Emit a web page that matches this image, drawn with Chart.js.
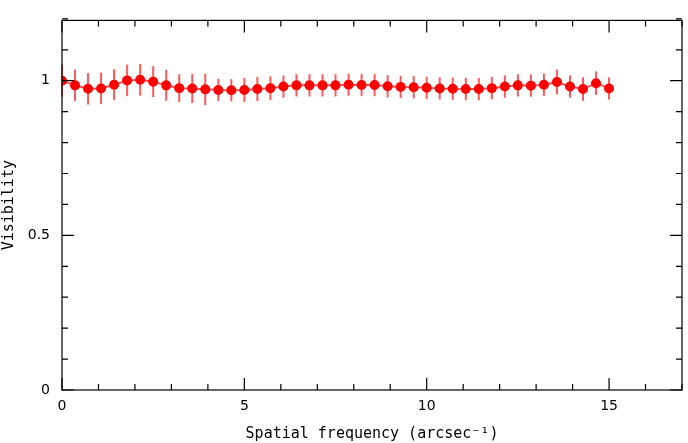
<!DOCTYPE html>
<html><head><meta charset="utf-8">
<script src="https://cdn.jsdelivr.net/npm/chart.js@4/dist/chart.umd.min.js"></script>
<style>body{margin:0;background:#fff}</style></head>
<body><canvas id="c" width="688" height="443"></canvas>
<script>
const nPoints = 43;
const freqStep = 15 / 42;
const visibility = [1.0, 0.985, 0.974, 0.975, 0.987, 1.001, 1.003, 0.997, 0.985, 0.976, 0.975, 0.972, 0.970, 0.969, 0.970, 0.973, 0.976, 0.981, 0.985, 0.985, 0.985, 0.985, 0.987,
  0.986, 0.986, 0.982, 0.980, 0.979, 0.977, 0.975, 0.974, 0.973, 0.973, 0.976, 0.981, 0.985, 0.984, 0.987, 0.996, 0.981, 0.973, 0.992, 0.975];
const errors = [0.052, 0.051, 0.051, 0.051, 0.05, 0.051, 0.051, 0.05, 0.05, 0.045, 0.047, 0.051, 0.036, 0.036, 0.039, 0.039, 0.038, 0.036, 0.036, 0.036, 0.036, 0.036, 0.036,
  0.036, 0.036, 0.036, 0.036, 0.036, 0.036, 0.036, 0.036, 0.036, 0.036, 0.036, 0.036, 0.036, 0.036, 0.036, 0.04, 0.036, 0.038, 0.038, 0.036];
const xTicks = [0, 5, 10, 15];
const yTicks = [0, 0.5, 1];

const pts = visibility.map((v, i) => ({x: i * freqStep, y: v}));

const frame = {
  id: 'frame',
  beforeDatasetsDraw(chart) {
    const c = chart.ctx, xs = chart.scales.x, ys = chart.scales.y;
    c.save();
    c.strokeStyle = 'rgba(255,0,0,0.65)';
    c.lineWidth = 2;
    pts.forEach((p, i) => {
      const px = xs.getPixelForValue(p.x);
      c.beginPath();
      c.moveTo(px, ys.getPixelForValue(p.y - errors[i]));
      c.lineTo(px, ys.getPixelForValue(p.y + errors[i]));
      c.stroke();
    });
    c.restore();
  },
  afterDraw(chart) {
    const c = chart.ctx, a = chart.chartArea, xs = chart.scales.x, ys = chart.scales.y;
    c.save();
    c.strokeStyle = '#000';
    c.lineWidth = 1.2;
    c.strokeRect(a.left, a.top, a.right - a.left, a.bottom - a.top);
    c.beginPath();
    for (let v = 0; v <= 17; v++) {
      const px = xs.getPixelForValue(v), len = v % 5 === 0 ? 12 : 6;
      c.moveTo(px, a.bottom); c.lineTo(px, a.bottom - len);
      c.moveTo(px, a.top); c.lineTo(px, a.top + len);
    }
    for (let k = 0; k <= 12; k++) {
      const py = ys.getPixelForValue(k / 10), len = k % 5 === 0 ? 12 : 6;
      c.moveTo(a.left, py); c.lineTo(a.left + len, py);
      c.moveTo(a.right, py); c.lineTo(a.right - len, py);
    }
    c.stroke();
    c.restore();
  }
};

new Chart(document.getElementById('c'), {
  type: 'scatter',
  data: {datasets: [{
    data: pts, showLine: true, borderColor: 'rgba(255,0,0,0.7)', borderWidth: 2,
    backgroundColor: '#ff0000', pointBorderColor: '#ff0000', pointRadius: 4
  }]},
  options: {
    responsive: false, animation: false,
    layout: {padding: {top: -14, right: 1}},
    plugins: {legend: {display: false}, tooltip: {enabled: false}},
    scales: {
      x: {
        min: 0, max: 17,
        afterBuildTicks: s => { s.ticks = xTicks.map(v => ({value: v})); },
        afterFit: s => { s.height = 53; },
        grid: {display: false, drawTicks: false}, border: {display: false},
        ticks: {color: '#000', padding: 8, font: {family: 'DejaVu Sans', size: 14}},
        title: {display: true, text: 'Spatial frequency (arcsec⁻¹)', color: '#000', padding: 0, font: {family: 'DejaVu Sans Mono', size: 15}}
      },
      y: {
        min: 0, max: 1.195,
        afterBuildTicks: s => { s.ticks = yTicks.map(v => ({value: v})); },
        afterFit: s => { s.width = 62; },
        grid: {display: false, drawTicks: false}, border: {display: false},
        ticks: {color: '#000', padding: 12, callback: v => String(v), font: {family: 'DejaVu Sans', size: 14}},
        title: {display: true, text: 'Visibility', color: '#000', padding: 0, font: {family: 'DejaVu Sans Mono', size: 15}}
      }
    }
  },
  plugins: [frame]
});
</script></body></html>
